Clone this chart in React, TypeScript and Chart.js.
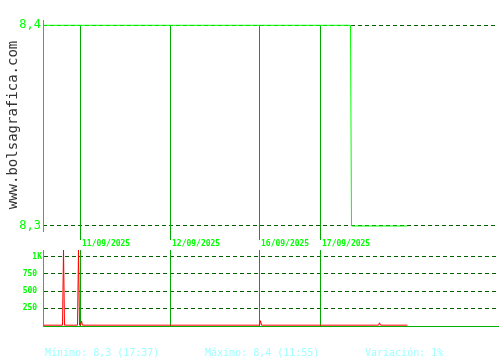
import React, { useEffect, useRef } from 'react';
import { Chart, registerables } from 'chart.js';

Chart.register(...registerables);

// ---- data ----
const dayLabels = ['11/09/2025', '12/09/2025', '16/09/2025', '17/09/2025'];
const dayStartSlots = [37, 127, 216, 277];

const priceSlots = [0, 307, 308, 364];
const priceValues = [8.4, 8.4, 8.3, 8.3];

const volumeSlots = [0, 19, 20, 21, 34, 35, 36, 37, 38, 39, 216, 217, 218, 335, 336, 337, 364];
const volumeValues = [0, 0, 1100, 0, 0, 1100, 0, 0, 60, 0, 0, 65, 0, 0, 35, 0, 0];

const priceTickValues = [8.3, 8.4];
const priceTickLabels = ['8,3', '8,4'];
const volumeTickValues = [250, 500, 750, 1000];
const volumeTickLabels = ['250 ', '500 ', '750 ', '1K'];

const summaryLabels = ['Mínimo: 8,3 (17:37)', 'Máximo: 8,4 (11:55)', 'Variación: 1%'];
const watermark = 'www.bolsagrafica.com';

const MONO = '"DejaVu Sans Mono", monospace';

const decorPlugin = {
  id: 'decor',
  beforeDatasetsDraw(chart: any) {
    const { ctx, chartArea } = chart;
    const xs = chart.scales.x;
    const yp = chart.scales.yPrice;
    const yv = chart.scales.yVol;
    ctx.save();
    ctx.strokeStyle = '#00a800';
    ctx.lineWidth = 1;
    const top = Math.round(yp.getPixelForValue(priceTickValues[1]));
    dayStartSlots.forEach((slot, i) => {
      const x = Math.floor(xs.getPixelForValue(slot)) + 0.5;
      ctx.beginPath();
      ctx.moveTo(x, top);
      ctx.lineTo(x, yv.top - 10);
      ctx.moveTo(x, yv.top);
      ctx.lineTo(x, chartArea.bottom);
      ctx.stroke();
      ctx.fillStyle = '#00ff00';
      ctx.font = 'bold 8px ' + MONO;
      ctx.textBaseline = 'middle';
      ctx.textAlign = 'left';
      ctx.fillText(dayLabels[i], x + 1.5, yv.top - 6);
    });
    ctx.restore();
  },
  afterDraw(chart: any) {
    const { ctx, chartArea } = chart;
    const yp = chart.scales.yPrice;
    ctx.save();
    // price axis line
    ctx.strokeStyle = '#00e000';
    ctx.lineWidth = 1;
    ctx.beginPath();
    ctx.moveTo(chartArea.left + 0.5, yp.top);
    ctx.lineTo(chartArea.left + 0.5, yp.getPixelForValue(8.297));
    ctx.stroke();
    // watermark
    ctx.translate(17, 125);
    ctx.rotate(-Math.PI / 2);
    ctx.fillStyle = '#333333';
    ctx.font = '14px ' + MONO;
    ctx.textAlign = 'center';
    ctx.textBaseline = 'alphabetic';
    ctx.fillText(watermark, 0, 0);
    ctx.restore();
    // summary
    ctx.save();
    ctx.fillStyle = '#a0ffff';
    ctx.font = '10px ' + MONO;
    ctx.textBaseline = 'alphabetic';
    ctx.textAlign = 'left';
    const xsPos = [45, 205, 365];
    summaryLabels.forEach((t, i) => ctx.fillText(t, xsPos[i], 356));
    ctx.restore();
  },
};

export default function App() {
  const ref = useRef<HTMLCanvasElement>(null);
  useEffect(() => {
    if (!ref.current) return;
    const chart = new Chart(ref.current, {
      type: 'line',
      data: {
        datasets: [
          {
            label: 'Precio',
            data: priceSlots.map((x, i) => ({ x, y: priceValues[i] })),
            xAxisID: 'x',
            yAxisID: 'yPrice',
            borderColor: '#00ff00',
            borderWidth: 1,
            pointRadius: 0,
            tension: 0,
          },
          {
            label: 'Volumen',
            data: volumeSlots.map((x, i) => ({ x, y: volumeValues[i] })),
            xAxisID: 'x',
            yAxisID: 'yVol',
            borderColor: '#ff0000',
            borderWidth: 1,
            pointRadius: 0,
            tension: 0,
          },
        ],
      },
      options: {
        responsive: false,
        animation: false,
        layout: { padding: { top: 20, right: 2, bottom: 34, left: 0 } },
        plugins: { legend: { display: false }, tooltip: { enabled: false } },
        scales: {
          x: {
            type: 'linear',
            min: -0.5,
            max: 454.5,
            ticks: { display: false },
            grid: { display: false, drawTicks: false },
            border: { display: true, color: '#00b000', width: 1 },
            afterFit: (s: any) => { s.height = 0; },
          },
          yVol: {
            type: 'linear',
            position: 'left',
            stack: 'main',
            stackWeight: 76,
            min: -12,
            max: 1100,
            afterBuildTicks: (s: any) => { s.ticks = volumeTickValues.map((v) => ({ value: v })); },
            ticks: {
              autoSkip: false,
              color: '#00ff00',
              font: { family: MONO, size: 8, weight: 'bold' },
              padding: 1,
              callback: (_v: any, i: number) => volumeTickLabels[i],
            },
            grid: { color: '#006000', lineWidth: 1, drawTicks: false },
            border: { display: true, color: '#00e000', width: 1, dash: [4, 3] },
            afterFit: (s: any) => { s.width = 43; },
          },
          yPrice: {
            type: 'linear',
            position: 'left',
            stack: 'main',
            stackWeight: 230,
            min: 8.28804,
            max: 8.40264,
            afterBuildTicks: (s: any) => { s.ticks = priceTickValues.map((v) => ({ value: v })); },
            ticks: {
              autoSkip: false,
              color: '#00ff00',
              font: { family: MONO, size: 12 },
              padding: 2,
              callback: (_v: any, i: number) => priceTickLabels[i],
            },
            grid: { color: '#006000', lineWidth: 1, drawTicks: false },
            border: { display: false, dash: [4, 3] },
            afterFit: (s: any) => { s.width = 43; },
          },
        },
      } as any,
      plugins: [decorPlugin],
    });
    return () => chart.destroy();
  }, []);
  return (
    <div style={{ position: 'absolute', left: 0, top: 0, width: 500, height: 360, background: '#ffffff' }}>
      <canvas ref={ref} width={500} height={360} />
    </div>
  );
}
